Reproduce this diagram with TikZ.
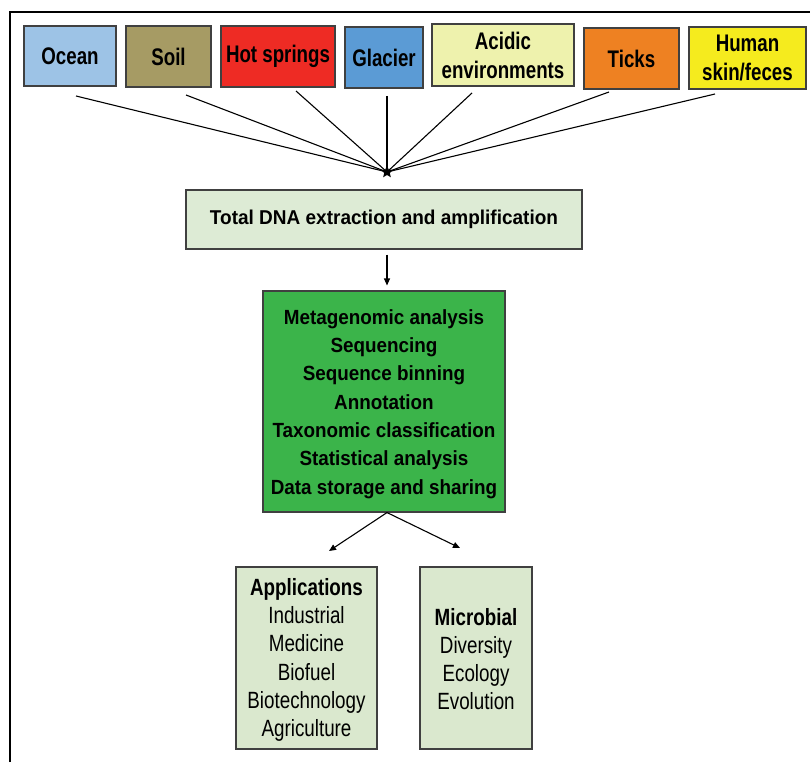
\documentclass[tikz,border=0pt]{standalone}
\usepackage{fontspec}
\setmainfont{Liberation Sans}
\newfontfamily\fTop{Liberation Sans}[FakeStretch=0.78]
\newfontfamily\fDna{Liberation Sans}[FakeStretch=0.95]
\newfontfamily\fMeta{Liberation Sans}[FakeStretch=0.92]
\newfontfamily\fOut{Liberation Sans}[FakeStretch=0.80]
\usetikzlibrary{shapes.geometric,arrows.meta}
\definecolor{cOcean}{HTML}{9DC3E6}
\definecolor{cSoil}{HTML}{A69B64}
\definecolor{cHot}{HTML}{EE2B24}
\definecolor{cGlacier}{HTML}{5B9BD5}
\definecolor{cAcid}{HTML}{EEF2AD}
\definecolor{cTicks}{HTML}{EE8122}
\definecolor{cHuman}{HTML}{F5EB1E}
\definecolor{cPale}{HTML}{DDEBD5}
\definecolor{cGreen}{HTML}{3BB44A}
\definecolor{cApp}{HTML}{DAE8CE}
\definecolor{cEdge}{HTML}{404040}
\tikzset{
  box/.style={draw=cEdge, line width=1.1pt, rectangle, inner sep=0pt, align=center},
  srcbox/.style={box, font=\fTop\bfseries\fontsize{24}{29}\selectfont},
  dnabox/.style={box, font=\fDna\bfseries\fontsize{20}{24}\selectfont},
  metabox/.style={box, font=\fMeta\bfseries\fontsize{20.5}{28.3}\selectfont},
  outbox/.style={box, font=\fOut\fontsize{23.5}{28.2}\selectfont},
  conn/.style={line width=1.1pt, black},
  arr/.style={line width=1.1pt, black, -{Triangle[length=7pt,width=6pt]}},
}
\begin{document}
\begin{tikzpicture}[x=1pt,y=-1pt]
\useasboundingbox (0,0) rectangle (810,762);
% frame
\draw[line width=2pt] (10,762) -- (10,12) -- (811,12);
% source boxes
\node[srcbox, fill=cOcean, minimum width=92, minimum height=60] (ocean) at (70,56) {Ocean};
\node[srcbox, fill=cSoil, minimum width=85, minimum height=61] (soil) at (168.5,56.5) {Soil};
\node[srcbox, fill=cHot, minimum width=114, minimum height=61] (hot) at (278,56.5) {Hot springs};
\node[srcbox, fill=cGlacier, minimum width=78, minimum height=61] (glacier) at (384,57.5) {Glacier};
\node[srcbox, fill=cAcid, minimum width=142, minimum height=62] (acid) at (503,55) {Acidic\\environments};
\node[srcbox, fill=cTicks, minimum width=95, minimum height=61] (ticks) at (631.5,58.5) {Ticks};
\node[srcbox, fill=cHuman, minimum width=117, minimum height=62] (human) at (747.5,58) {Human\\skin/feces};
% line start points
\coordinate (s1) at (76,96);
\coordinate (s2) at (186,95);
\coordinate (s3) at (296,91);
\coordinate (s4) at (387,96);
\coordinate (s5) at (472,93);
\coordinate (s6) at (609,92);
\coordinate (s7) at (715,94);
\coordinate (hubc) at (387,172);
\foreach \s in {s1,s2,s3,s4,s5,s6,s7} \draw[conn] (\s) -- (hubc);
\node[star, star points=5, star point ratio=2.2, fill=black, inner sep=0pt, minimum size=13pt] (hub) at (hubc) {};
% DNA box
\node[dnabox, fill=cPale, minimum width=396, minimum height=59] (dna) at (384,219.5) {Total DNA extraction and amplification};
% green box
\node[metabox, fill=cGreen, minimum width=242, minimum height=221] (meta) at (384,401.5) {};
\node[metabox, draw=none, fill=none] (metatext) at (384,404)
  {Metagenomic analysis\\Sequencing\\Sequence binning\\Annotation\\Taxonomic classification\\Statistical analysis\\Data storage and sharing};
\draw[arr] ([xshift=3pt,yshift=-5pt]dna.south) -- ([xshift=3pt,yshift=5pt]meta.north);
% outputs
\node[outbox, fill=cApp, minimum width=141, minimum height=182] (apps) at (306.5,658) {};
\node[outbox] [draw=none] (appstext) at (306.5,660)
  {\textbf{Applications}\\Industrial\\Medicine\\Biofuel\\Biotechnology\\Agriculture};
\node[outbox, fill=cApp, minimum width=112, minimum height=182] (micro) at (476,658) {};
\node[outbox] [draw=none] (microtext) at (476,659)
  {\textbf{Microbial}\\Diversity\\Ecology\\Evolution};
\coordinate (t1) at (329,551);
\coordinate (t2) at (460,548);
\draw[arr] ([xshift=3pt]meta.south) -- (t1);
\draw[arr] ([xshift=3pt]meta.south) -- (t2);
\end{tikzpicture}
\end{document}
